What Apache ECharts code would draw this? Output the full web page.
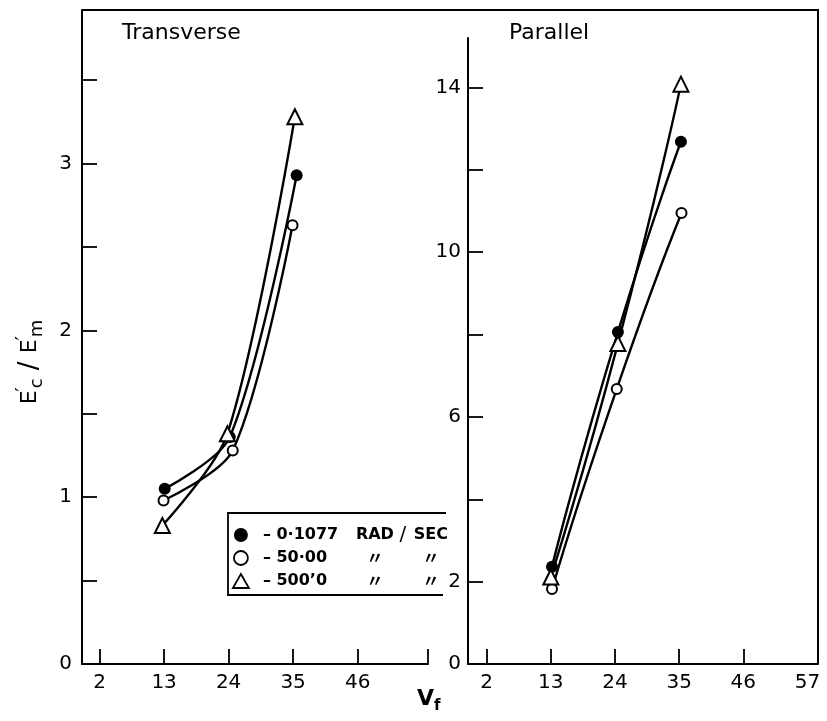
<!DOCTYPE html>
<html>
<head>
<meta charset="utf-8">
<script src="https://cdn.jsdelivr.net/npm/echarts@6/dist/echarts.min.js"></script>
<style>
  html, body { margin: 0; padding: 0; background: #fff; }
  #chart { width: 827px; height: 721px; }
</style>
</head>
<body>
<div id="chart"></div>
<script>
// Volume fraction axis ticks (shared by both panels)
const vfTicksLeft = [2, 13, 24, 35, 46];
const vfLabelsRight = [2, 13, 24, 35, 46, 57];
const transYTicks = [0.5, 1, 1.5, 2, 2.5, 3, 3.5];
const transYLabels = [0, 1, 2, 3];
const parYTicks = [2, 4, 6, 8, 10, 12, 14];
const parYLabels = [0, 2, 6, 10, 14];

// Series names (frequency)
const seriesNames = ['0·1077', '50·00', '500’0'];

// Transverse modulus ratio E'c/E'm
const transFilledX = [13.1, 24.2, 35.6];
const transFilledY = [1.05, 1.36, 2.93];
const transOpenX = [12.9, 24.7, 34.9];
const transOpenY = [0.98, 1.28, 2.63];
const transTriX = [12.7, 23.8, 35.3];
const transTriY = [0.83, 1.38, 3.28];

// Parallel modulus ratio E'c/E'm
const parFilledX = [13.2, 24.5, 35.3];
const parFilledY = [2.36, 8.06, 12.68];
const parOpenX = [13.2, 24.3, 35.4];
const parOpenY = [1.82, 6.68, 10.95];
const parTriX = [13.0, 24.5, 35.3];
const parTriY = [2.11, 7.78, 14.08];

const FONT = 'DejaVu Sans';
const zip = (xs, ys) => xs.map((x, i) => [x, ys[i]]);

const chart = echarts.init(document.getElementById('chart'), null, { renderer: 'canvas' });

const axisLine = { show: true, onZero: false, lineStyle: { color: '#000', width: 2 } };
const tickStyle = { color: '#000', width: 1.8 };
const labelStyle = { color: '#000', fontFamily: FONT, fontSize: 20 };

const symbolDefs = [
  { symbol: 'circle', size: 12, itemStyle: { color: '#000' } },
  { symbol: 'emptyCircle', size: 10, itemStyle: { color: '#000', borderColor: '#000', borderWidth: 1.8 } },
  { symbol: 'emptyTriangle', size: 15, itemStyle: { color: '#000', borderColor: '#000', borderWidth: 1.8 } }
];

function makeSeries(idx, name, xs, ys, def, smooth) {
  return {
    type: 'line',
    name: name,
    xAxisIndex: idx,
    yAxisIndex: idx,
    data: zip(xs, ys),
    smooth: smooth,
    symbol: def.symbol,
    symbolSize: def.size,
    showAllSymbol: true,
    itemStyle: def.itemStyle,
    lineStyle: { color: '#000', width: 2.4 },
    emphasis: { disabled: true },
    z: 3
  };
}

const legendText = {
  '0·1077': '{n|– 0·1077}{u|RAD}{sl|/}{v|SEC}',
  '50·00': '{n|– 50·00}{q|〃}{sl| }{q|〃}',
  '500’0': '{n|– 500’0}{q|〃}{sl| }{q|〃}'
};

const option = {
  animation: false,
  backgroundColor: '#fff',
  title: [
    { text: 'Transverse', left: 122, top: 22, padding: 0,
      textStyle: { fontFamily: FONT, fontSize: 22, fontWeight: 'normal', color: '#000' } },
    { text: 'Parallel', left: 509, top: 22, padding: 0,
      textStyle: { fontFamily: FONT, fontSize: 22, fontWeight: 'normal', color: '#000' } },
    { text: '{v|V}{f|f}', left: 417, top: 688, padding: 0,
      textStyle: { rich: {
        v: { fontFamily: FONT, fontSize: 22, color: '#000', lineHeight: 26, verticalAlign: 'top' },
        f: { fontFamily: FONT, fontSize: 15, fontWeight: 'bold', color: '#000', lineHeight: 16, verticalAlign: 'bottom' }
      } } }
  ],
  grid: [
    { left: 82, top: 10, width: 346, height: 654 },
    { left: 468, top: 38, width: 350, height: 626 }
  ],
  xAxis: [
    {
      type: 'value', gridIndex: 0, min: -1, max: 58,
      axisLine: axisLine,
      axisTick: { show: true, inside: true, length: 15, lineStyle: tickStyle, customValues: vfTicksLeft.concat([58]) },
      axisLabel: Object.assign({ margin: 9, customValues: vfTicksLeft }, labelStyle),
      splitLine: { show: false }
    },
    {
      type: 'value', gridIndex: 1, min: -1.2, max: 58.8,
      axisLine: axisLine,
      axisTick: { show: true, inside: true, length: 15, lineStyle: tickStyle, customValues: vfTicksLeft },
      axisLabel: Object.assign({ margin: 9, customValues: vfLabelsRight }, labelStyle),
      splitLine: { show: false }
    }
  ],
  yAxis: [
    {
      type: 'value', gridIndex: 0, min: 0, max: 3.92,
      axisLine: axisLine,
      axisTick: { show: true, inside: true, length: 15, lineStyle: tickStyle, customValues: transYTicks },
      axisLabel: Object.assign({ margin: 10, customValues: transYLabels }, labelStyle),
      splitLine: { show: false },
      name: '{e|E}{p|′}{s|c}{sl| / }{e|E}{p|′}{s|m}',
      nameLocation: 'middle',
      nameRotate: 90,
      nameGap: 36,
      nameTextStyle: {
        padding: [0, 50, 0, 0],
        rich: {
          e: { fontFamily: FONT, fontSize: 22, color: '#000', lineHeight: 32 },
          p: { fontFamily: FONT, fontSize: 20, color: '#000', lineHeight: 14, verticalAlign: 'top', width: 2 },
          s: { fontFamily: FONT, fontSize: 18, color: '#000', lineHeight: 16, verticalAlign: 'bottom' },
          sl: { fontFamily: FONT, fontSize: 26, color: '#000', lineHeight: 32 }
        }
      }
    },
    {
      type: 'value', gridIndex: 1, min: 0, max: 15.2,
      axisLine: axisLine,
      axisTick: { show: true, inside: true, length: 15, lineStyle: tickStyle, customValues: parYTicks },
      axisLabel: Object.assign({ margin: 7, customValues: parYLabels }, labelStyle),
      splitLine: { show: false }
    }
  ],
  legend: {
    orient: 'vertical',
    left: 232,
    top: 525,
    padding: 0,
    itemGap: 3,
    itemWidth: 16,
    itemHeight: 14,
    selectedMode: false,
    data: [
      { name: seriesNames[0], icon: 'circle', itemStyle: { color: '#000', borderWidth: 0 } },
      { name: seriesNames[1], icon: 'circle', itemStyle: { color: '#fff', borderColor: '#000', borderWidth: 1.8 } },
      { name: seriesNames[2], icon: 'triangle', itemStyle: { color: '#fff', borderColor: '#000', borderWidth: 1.8 } }
    ],
    formatter: name => legendText[name],
    textStyle: {
      rich: {
        n: { fontFamily: FONT, fontSize: 16, fontWeight: 'bold', color: '#000', lineHeight: 20, width: 90, padding: [0, 0, 0, 9] },
        u: { fontFamily: FONT, fontSize: 16, fontWeight: 'bold', color: '#000', lineHeight: 20, width: 44, align: 'center' },
        sl: { fontFamily: FONT, fontSize: 20, color: '#000', lineHeight: 20, width: 12, align: 'center' },
        v: { fontFamily: FONT, fontSize: 16, fontWeight: 'bold', color: '#000', lineHeight: 20, width: 44, align: 'center' },
        q: { fontFamily: 'Noto Sans CJK JP', fontSize: 17, fontWeight: 'bold', color: '#000', lineHeight: 20, width: 44, align: 'center' }
      }
    }
  },
  graphic: [
    // outer frame: top edge and right edge
    { type: 'polyline', shape: { points: [[82, 10], [818, 10], [818, 664]] },
      style: { stroke: '#000', lineWidth: 2, fill: null }, silent: true },
    // legend box (open on the right)
    { type: 'polyline', shape: { points: [[446, 513], [228, 513], [228, 595], [443, 595]] },
      style: { stroke: '#000', lineWidth: 1.8, fill: null }, silent: true }
  ],
  series: [
    makeSeries(0, seriesNames[0], transFilledX, transFilledY, symbolDefs[0], 0.3),
    makeSeries(0, seriesNames[1], transOpenX, transOpenY, symbolDefs[1], 0.3),
    makeSeries(0, seriesNames[2], transTriX, transTriY, symbolDefs[2], 0.3),
    makeSeries(1, seriesNames[0], parFilledX, parFilledY, symbolDefs[0], 0.6),
    makeSeries(1, seriesNames[1], parOpenX, parOpenY, symbolDefs[1], 0.6),
    makeSeries(1, seriesNames[2], parTriX, parTriY, symbolDefs[2], 0.6)
  ]
};

chart.setOption(option);
</script>
</body>
</html>
